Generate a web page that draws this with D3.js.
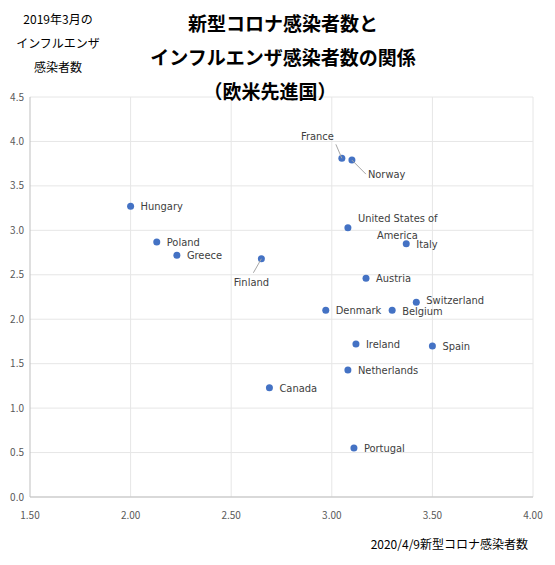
<!DOCTYPE html>
<html><head><meta charset="utf-8">
<script src="https://cdn.jsdelivr.net/npm/d3@7"></script>
<style>body{margin:0;background:#fff;font-family:"Noto Sans CJK JP","Noto Sans",sans-serif}</style>
</head><body><div id="chart"></div>
<script>
// Data
const countries = ['Hungary','Poland','Greece','Finland','France','Norway','United States of America','Italy','Austria','Switzerland','Denmark','Belgium','Ireland','Spain','Netherlands','Canada','Portugal'];
const covid = [2.00,2.13,2.23,2.65,3.05,3.10,3.08,3.37,3.17,3.42,2.97,3.30,3.12,3.50,3.08,2.69,3.11];
const flu = [3.27,2.87,2.72,2.68,3.81,3.79,3.03,2.85,2.46,2.19,2.10,2.10,1.72,1.70,1.43,1.23,0.55];
const xTicks = [1.5,2.0,2.5,3.0,3.5,4.0];
const yTicks = [0,0.5,1,1.5,2,2.5,3,3.5,4,4.5];

const width = 555, height = 565;
const svg = d3.select('#chart').append('svg').attr('width', width).attr('height', height);

const x = d3.scaleLinear().domain([1.5, 4]).range([30, 533]);
const y = d3.scaleLinear().domain([0, 4.5]).range([497, 97]);

// grid
svg.append('g').selectAll('line').data(yTicks).join('line')
  .attr('x1', 30).attr('x2', 533).attr('y1', d => y(d)).attr('y2', d => y(d))
  .attr('stroke', '#e6e6e6');
svg.append('g').selectAll('line').data(xTicks).join('line')
  .attr('y1', 97).attr('y2', 497).attr('x1', d => x(d)).attr('x2', d => x(d))
  .attr('stroke', d => d === 1.5 ? '#bfbfbf' : '#e6e6e6');
svg.append('line').attr('x1', 30).attr('x2', 533).attr('y1', y(0)).attr('y2', y(0)).attr('stroke', '#bfbfbf');

// tick labels
svg.append('g').selectAll('text').data(yTicks).join('text')
  .attr('x', 24).attr('y', d => y(d) + 3.5).attr('text-anchor', 'end')
  .attr('font-size', 10).attr('fill', '#595959').text(d => d.toFixed(1));
svg.append('g').selectAll('text').data(xTicks).join('text')
  .attr('x', d => x(d)).attr('y', 519).attr('text-anchor', 'middle')
  .attr('font-size', 10).attr('fill', '#595959').text(d => d.toFixed(2));

// titles
const title = ['新型コロナ感染者数と', 'インフルエンザ感染者数の関係', '（欧米先進国）'];
svg.append('g').selectAll('text').data(title).join('text')
  .attr('x', (d, i) => i === 2 ? 270 : 283).attr('y', (d, i) => 31 + i * 34).attr('text-anchor', 'middle')
  .attr('font-size', 19).attr('font-weight', 'bold').attr('fill', '#000').text(d => d);
svg.append('g').selectAll('text').data(['2019年3月の', 'インフルエンザ', '感染者数']).join('text')
  .attr('x', 58).attr('y', (d, i) => 24 + i * 24).attr('text-anchor', 'middle')
  .attr('font-size', 12).attr('fill', '#000').text(d => d);
svg.append('text').attr('x', 528).attr('y', 549).attr('text-anchor', 'end')
  .attr('font-size', 12).attr('fill', '#000').text('2020/4/9新型コロナ感染者数');

const data = countries.map((c, i) => ({name: c, x: covid[i], y: flu[i]}));

// label placement offsets (dx, dy from point) and optional leader lines
const special = {
  'France': {dx: -8, dy: -18, anchor: 'end', line: true},
  'Norway': {dx: 16, dy: 18, anchor: 'start', line: true},
  'Finland': {dx: -10, dy: 27, anchor: 'middle', line: true},
  'Switzerland': {dx: 10, dy: 2, anchor: 'start'},
  'Belgium': {dx: 10, dy: 5, anchor: 'start'},
  'United States of America': {dx: 10, dy: -6, anchor: 'start', multi: ['United States of', 'America']}
};

svg.append('g').selectAll('circle').data(data).join('circle')
  .attr('cx', d => x(d.x)).attr('cy', d => y(d.y)).attr('r', 3.5).attr('fill', '#4472c4');

const labels = svg.append('g').attr('font-size', 11).attr('fill', '#404040')
  .attr('font-family', '"DejaVu Sans Condensed","DejaVu Sans",sans-serif');
data.forEach(d => {
  const px = x(d.x), py = y(d.y), s = special[d.name];
  if (!s) {
    labels.append('text').attr('x', px + 10).attr('y', py + 4).text(d.name);
    return;
  }
  if (s.multi) {
    labels.append('text').attr('x', px + 10).attr('y', py - 6).text(s.multi[0]);
    labels.append('text').attr('x', px + 29).attr('y', py + 11).text(s.multi[1]);
    return;
  }
  labels.append('text').attr('x', px + s.dx).attr('y', py + s.dy).attr('text-anchor', s.anchor).text(d.name);
  if (s.line) {
    let lx, ly;
    if (d.name === 'France') { lx = px - 6; ly = py - 14; }
    else if (d.name === 'Norway') { lx = px + 14; ly = py + 14; }
    else { lx = px - 8; ly = py + 14; }
    svg.append('line').attr('x1', px).attr('y1', py).attr('x2', lx).attr('y2', ly)
      .attr('stroke', '#a6a6a6');
  }
});
</script></body></html>
